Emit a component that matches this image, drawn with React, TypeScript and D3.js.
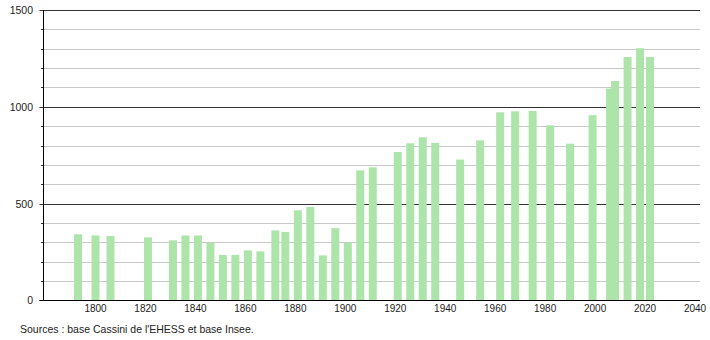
import React from "react";
import * as d3 from "d3";

const years = [1793, 1800, 1806, 1821, 1831, 1836, 1841, 1846, 1851, 1856, 1861, 1866, 1872, 1876, 1881, 1886, 1891, 1896, 1901, 1906, 1911, 1921, 1926, 1931, 1936, 1946, 1954, 1962, 1968, 1975, 1982, 1990, 1999, 2006, 2008, 2013, 2018, 2022];
const population = [344, 338, 335, 328, 313, 338, 338, 301, 237, 238, 261, 256, 364, 356, 468, 485, 235, 376, 301, 674, 690, 769, 814, 845, 816, 730, 829, 974, 979, 981, 907, 812, 959, 1097, 1136, 1260, 1305, 1260];
const xTicks = [1800, 1820, 1840, 1860, 1880, 1900, 1920, 1940, 1960, 1980, 2000, 2020, 2040];
const yMajor = [0, 500, 1000, 1500];
const yMinor = d3.range(100, 1500, 100).filter((v) => v % 500 !== 0);
const sourceText = "Sources : base Cassini de l'EHESS et base Insee.";

const W = 710;
const H = 340;
const left = 44;
const right = 700;
const font = "'Liberation Sans', Arial, sans-serif";

export default function App() {
  const x = d3.scaleLinear().domain([1800, 2040]).range([95.5, 695]);
  const y = d3.scaleLinear().domain([0, 1500]).range([300.9, 10.5]);
  const crisp = (v: number) => Math.round(y(v) - 0.5) + 0.5;
  const barW = 8;

  return (
    <svg
      width={W}
      height={H}
      style={{ position: "absolute", left: 0, top: 0, background: "#fff" }}
    >
      {yMinor.map((v) => (
        <g key={"mi" + v}>
          <line x1={left} x2={right} y1={crisp(v)} y2={crisp(v)} stroke="#c8c8c8" strokeWidth={1} />
          <line x1={41} x2={left} y1={crisp(v)} y2={crisp(v)} stroke="#333" strokeWidth={1} />
        </g>
      ))}
      {yMajor.map((v) => (
        <g key={"ma" + v}>
          <line x1={39.5} x2={right} y1={crisp(v)} y2={crisp(v)} stroke={v === 0 ? "#000" : "#333"} strokeWidth={1} />
          <text
            x={33}
            y={crisp(v)}
            dy="0.35em"
            textAnchor="end"
            fontFamily={font}
            fontSize={10.5}
            fill="#222"
          >
            {v}
          </text>
        </g>
      ))}
      {years.map((yr, i) => (
        <rect
          key={"b" + yr}
          x={x(yr) - barW / 2}
          y={y(population[i])}
          width={barW}
          height={y(0) - y(population[i]) - 0.4}
          fill="#ade4aa"
        />
      ))}
      <line x1={43.5} x2={43.5} y1={10} y2={301} stroke="#000" strokeWidth={1} />
      <line x1={39.5} x2={right} y1={300.5} y2={300.5} stroke="#000" strokeWidth={1} />
      {xTicks.map((t) => (
        <text
          key={"x" + t}
          x={x(t)}
          y={312}
          textAnchor="middle"
          fontFamily={font}
          fontSize={10}
          fill="#222"
        >
          {t}
        </text>
      ))}
      <text x={20} y={333} fontFamily={font} fontSize={10.5} fill="#222">
        {sourceText}
      </text>
    </svg>
  );
}
